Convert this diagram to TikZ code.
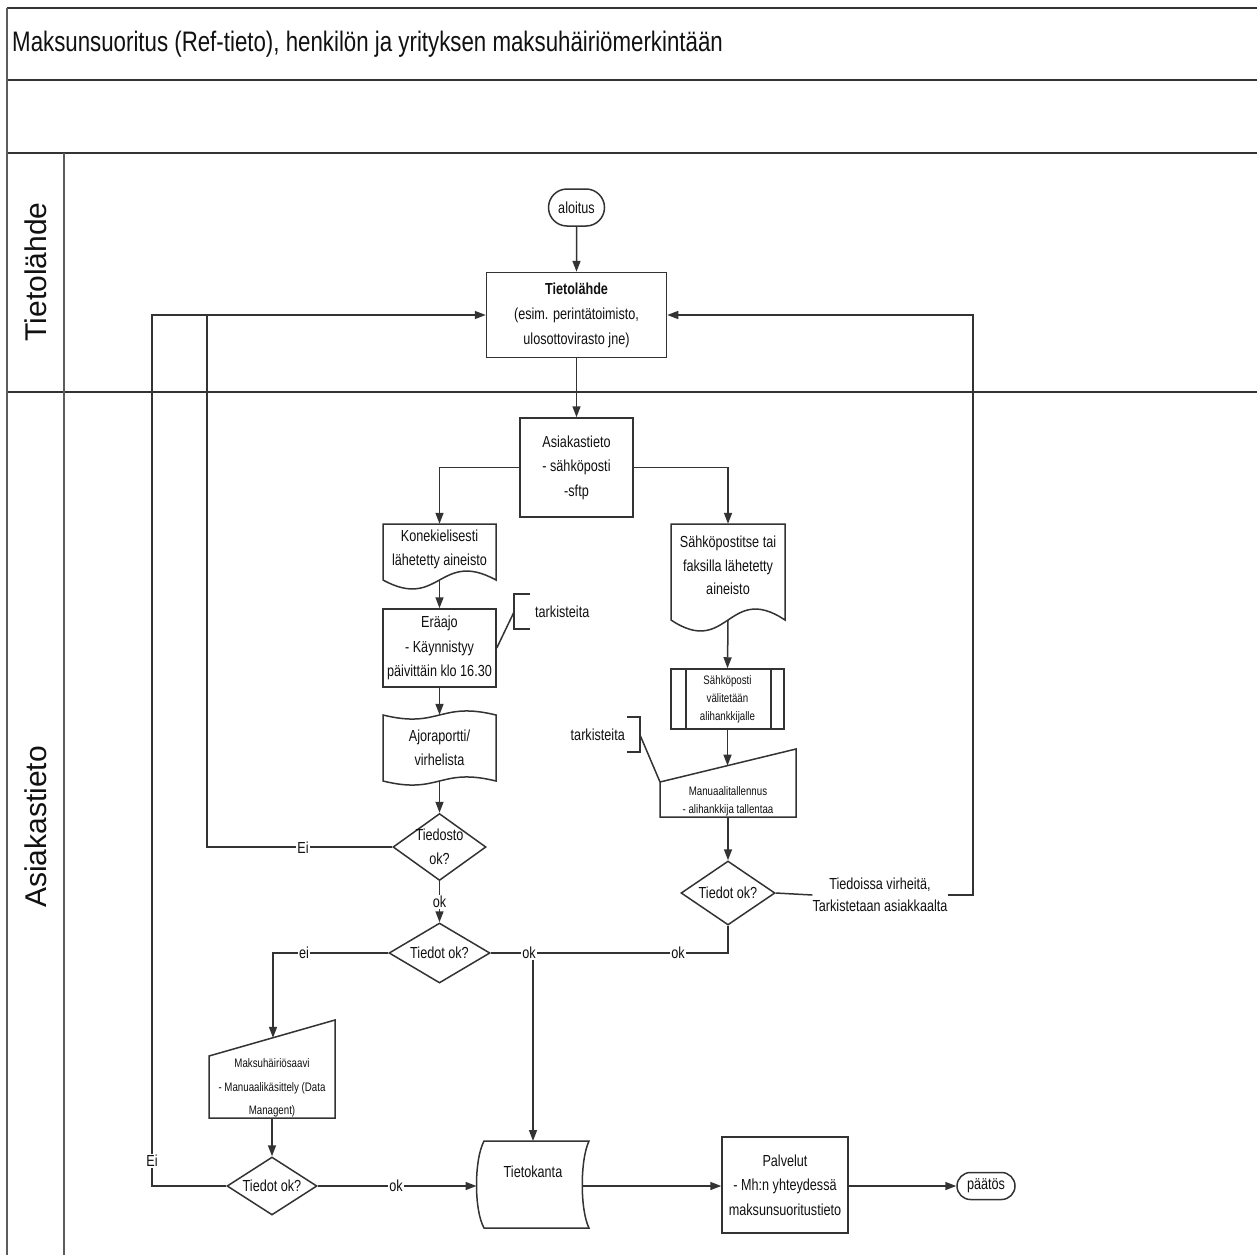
\documentclass[tikz,border=0pt]{standalone}
\usepackage{fontspec}
\setmainfont[FakeStretch=0.79]{Liberation Sans}
\newfontfamily\lanefont{Liberation Sans}
\usetikzlibrary{shapes.geometric,shapes.misc,arrows.meta,calc}
\definecolor{lc}{HTML}{333333}
\definecolor{tc}{HTML}{111111}
\newcommand\boxfont{\fontsize{16}{24.5}\selectfont}
\newcommand\minifont{\fontsize{12.3}{18}\selectfont}

\begin{document}
\begin{tikzpicture}[x=1pt,y=-1pt,
  every node/.style={text=tc},
  wire/.style={draw=lc, line width=1.5pt},
  flow/.style={wire, -{Triangle[length=11pt,width=8pt]}},
  outline/.style={draw=lc, line width=1.5pt},
  lane/.style={draw=lc, line width=2.2pt},
  thin/.style={draw=lc!80, line width=1.4pt},
  txt/.style={font=\boxfont, align=center, inner sep=0pt},
  mini/.style={font=\minifont, align=center, inner sep=0pt},
  frame/.style={inner sep=0pt, font=\boxfont, align=center},
  box/.style={outline, fill=white, rectangle, inner sep=0pt, align=center, font=\boxfont},
  term/.style={outline, fill=white, rounded rectangle, inner sep=0pt, font=\boxfont},
  dia/.style={outline, fill=white, diamond, inner sep=0pt},
  tag/.style={font=\boxfont, fill=white, inner sep=1.5pt},
  lanetext/.style={font=\lanefont\fontsize{30}{32}\selectfont, rotate=90},
]
\useasboundingbox (0,0) rectangle (1257,1255);
\fill[white] (0,0) rectangle (1257,1255);

% ---- pool frame and lanes
\draw[lane] (7,8) -- (1257,8);
\draw[lane] (7,80) -- (1257,80);
\draw[lane] (7,153) -- (1257,153);
\draw[lane] (7,392) -- (1257,392);
\draw[thin] (7,8) -- (7,1255);
\draw[thin] (64,153) -- (64,1255);

\node[anchor=west, font=\fontsize{28.2}{30}\selectfont, inner sep=0pt] (title) at (12,44)
  {Maksunsuoritus (Ref-tieto), henkilön ja yrityksen maksuhäiriömerkintään};
\node[lanetext] (laneA) at (36,272) {Tietolähde};
\node[lanetext] (laneB) at (36,827) {Asiakastieto};

% ---- outlines of the custom shapes
% document: Konekielisesti
\draw[outline] (383,524) -- (496,524) -- (496,580)
  .. controls (439.5,549) and (439.5,611) .. (383,580) -- cycle;
% document: Sähköpostitse
\draw[outline] (671,524) -- (785,524) -- (785,620)
  .. controls (728,582) and (728,658) .. (671,620) -- cycle;
% punched tape: Ajoraportti
\draw[outline] (383,715) .. controls (439.5,729) and (439.5,701) .. (496,715)
  -- (496,781) .. controls (439.5,767) and (439.5,795) .. (383,781) -- cycle;
% manual input: Maksuhäiriösaavi
\draw[outline] (209,1056) -- (335,1020) -- (335,1118) -- (209,1118) -- cycle;
% manual input: Manuaalitallennus
\draw[outline] (660,782) -- (796,749) -- (796,817) -- (660,817) -- cycle;
% stored data: Tietokanta
\draw[outline] (484,1141) -- (589,1141) .. controls (580,1160) and (580,1210) .. (589,1228)
  -- (484,1228) .. controls (474,1210) and (474,1160) .. (484,1141) -- cycle;
% annotation brackets
\draw[wire] (530,594) -- (514,594) -- (514,629) -- (530,629);
\draw[wire] (627,717) -- (640,717) -- (640,752) -- (627,752);

% ---- nodes
\node[term, minimum width=56pt, minimum height=37pt] (start) at (576.5,207.5) {aloitus};
\node[box, minimum width=180pt, minimum height=85pt, font=\fontsize{16}{25}\selectfont] (src) at (576.5,315)
  {\textbf{Tietolähde}\\(esim. perintätoimisto,\\ulosottovirasto jne)};
\node[box, minimum width=113pt, minimum height=99pt] (asi) at (576.5,467.5)
  {Asiakastieto\\- sähköposti\\-sftp};

\node[frame, minimum width=113pt, minimum height=56pt] (kone) at (439.5,552) {};
\node[txt] (koneTxt) at (439.5,549.5) {Konekielisesti\\lähetetty aineisto};
\node[box, minimum width=113pt, minimum height=78pt] (era) at (439.5,648)
  {Eräajo\\- Käynnistyy\\päivittäin klo 16.30};
\node[txt, anchor=west] (tark1) at (535,612) {tarkisteita};
\node[frame, minimum width=113pt, minimum height=66pt] (ajo) at (439.5,748)
  {Ajoraportti/\\virhelista};

\node[dia, minimum width=93pt, minimum height=67pt,
  label={[txt]center:{Tiedosto\\ok?}}] (d1) at (439.5,847) {};
\node[dia, minimum width=101pt, minimum height=60pt,
  label={[txt]center:{Tiedot ok?}}] (d2) at (439.5,953) {};

\node[frame, minimum width=126pt, minimum height=98pt] (maksu) at (272,1069) {};
\node[mini, font=\fontsize{12.3}{23.5}\selectfont] (maksuTxt) at (272,1088)
  {Maksuhäiriösaavi\\- Manuaalikäsittely (Data\\Managent)};
\node[dia, minimum width=90pt, minimum height=58pt,
  label={[txt]center:{Tiedot ok?}}] (d3) at (272,1186) {};

\node[frame, minimum width=114pt, minimum height=96pt] (sahko) at (728,572) {};
\node[txt, font=\fontsize{16}{23.5}\selectfont] (sahkoTxt) at (728,565.5)
  {Sähköpostitse tai\\faksilla lähetetty\\aineisto};
\node[box, minimum width=113pt, minimum height=60pt, font=\minifont] (val) at (727.5,699)
  {Sähköposti\\välitetään\\alihankkijalle};
\draw[outline] (686,669) -- (686,729);
\draw[outline] (771,669) -- (771,729);
\node[frame, minimum width=136pt, minimum height=68pt] (man) at (728,783) {};
\node[mini] (manTxt) at (728,801) {Manuaalitallennus\\- alihankkija tallentaa};
\node[txt, anchor=east] (tark2) at (625,735) {tarkisteita};
\node[dia, minimum width=94pt, minimum height=64pt,
  label={[txt]center:{Tiedot ok?}}] (d4) at (728,893) {};
\node[txt, font=\fontsize{16}{22}\selectfont] (err) at (880,895)
  {Tiedoissa virheitä,\\Tarkistetaan asiakkaalta};

\node[frame, minimum width=113pt, minimum height=87pt] (tk) at (532,1184.5) {};
\node[txt] (tkTxt) at (533,1172) {Tietokanta};
\node[box, minimum width=126pt, minimum height=96pt] (pal) at (785,1185)
  {Palvelut\\- Mh:n yhteydessä\\maksunsuoritustieto};
\node[term, minimum width=58pt, minimum height=27pt] (end) at (986,1186) {päätös};

% ---- connection points on the curved / slanted outlines
\coordinate (koneB) at (439.5,580);
\coordinate (sahkoB) at (728,620);
\coordinate (manT) at (727.5,765.6);
\coordinate (maksuT) at (273,1037.8);
\coordinate (tkL) at (476.5,1186);
\coordinate (tkR) at (582,1186);
\coordinate (tkT) at (533,1141);
\coordinate (merge) at (533,953);
\coordinate (loopL) at (152,315);
\coordinate (loopM) at (207,315);
\coordinate (loopR) at (973,315);
\coordinate (b1) at (514,612);
\coordinate (b2) at (640,735);

% ---- connectors
\draw[flow] (start) -- (src);
\draw[flow] (src) -- (asi);
\draw[flow] (asi.west) -| (kone.north);
\draw[flow] (asi.east) -| (sahko.north);
\draw[flow] (koneB) -- (era.north);
\draw[flow] (era.south) -- (ajo.north);
\draw[flow] (ajo.south) -- (d1.north);
\draw[flow] (d1.south) -- (d2.north);
\draw[wire] (d1.west) -| (loopM);
\draw[flow] (d3.west) -| (loopL) -- (src.west);
\draw[flow] (d2.west) -| (maksuT);
\draw[flow] (maksu.south) -- (d3.north);
\draw[flow] (d3.east) -- (tkL);
\draw[wire] (d4.south) |- (d2.east);
\draw[flow] (merge) -- (tkT);
\draw[flow] (sahkoB) -- (val.north);
\draw[flow] (val.south) -- (manT);
\draw[flow] (man.south) -- (d4.north);
\draw[wire] (d4.east) -- (err.west);
\draw[flow] (err.east) -| (loopR) -- (src.east);
\draw[flow] (tkR) -- (tkR -| pal.west);
\draw[flow] (end.west -| pal.east) -- (end.west);
\draw[wire] (b1) -- (era.east);
\draw[wire] (b2) -- (660,782);

% ---- branch labels
\node[tag] (okA) at (439.5,902) {ok};
\node[tag] (eiA) at (303,848) {Ei};
\node[tag] (eiB) at (152,1161) {Ei};
\node[tag] (eiC) at (304,953) {ei};
\node[tag] (okB) at (529,953) {ok};
\node[tag] (okC) at (678,953) {ok};
\node[tag] (okD) at (396,1186) {ok};
\end{tikzpicture}
\end{document}
